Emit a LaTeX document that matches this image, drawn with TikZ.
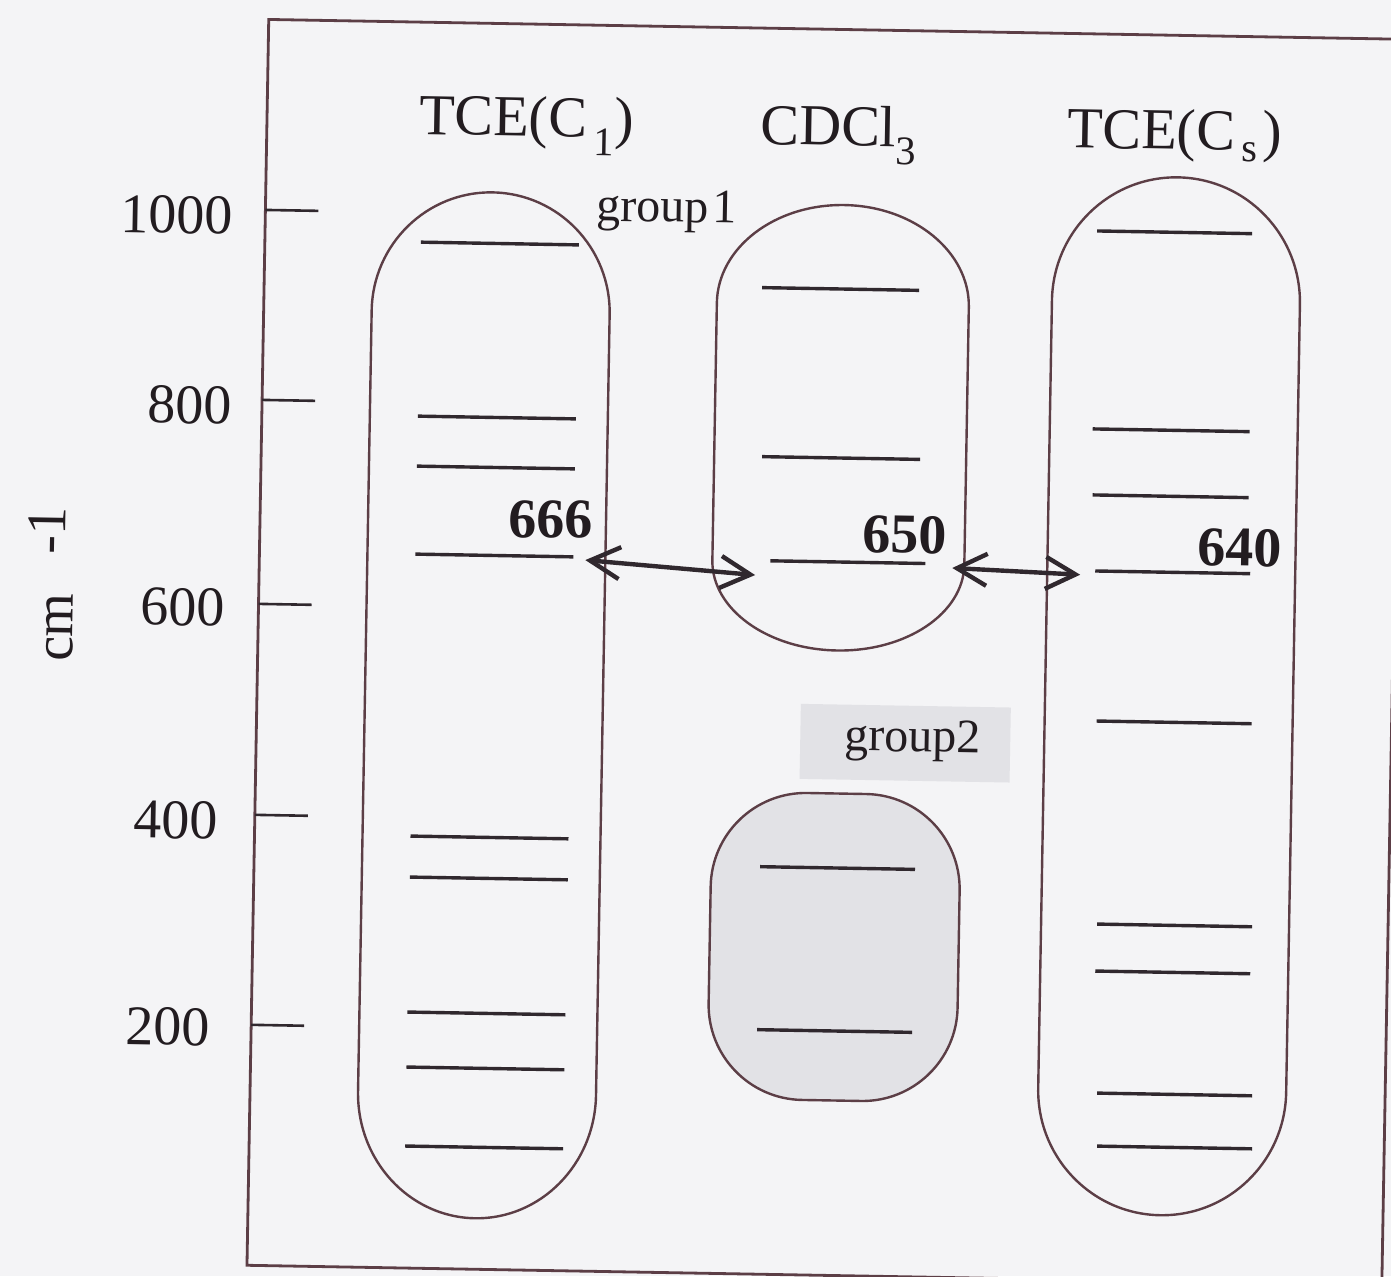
\documentclass[tikz,border=0pt]{standalone}
\usepackage{fontspec}
\setmainfont{Liberation Serif}
\usetikzlibrary{arrows.meta}
\definecolor{ink}{RGB}{48,40,46}
\definecolor{rim}{RGB}{92,62,70}
\definecolor{paper}{RGB}{244,244,246}
\definecolor{dots}{RGB}{226,226,230}

\begin{document}
\begin{tikzpicture}[x=1pt,y=-1pt,
  outline/.style={draw=rim, line width=2.4pt},
  level/.style={draw=ink, line width=3.4pt},
  frameline/.style={draw=rim, line width=2.8pt},
  tickmark/.style={draw=ink, line width=2.6pt},
  link/.style={draw=ink, line width=4.4pt,
    {Straight Barb[length=30pt,width=32pt]}-{Straight Barb[length=30pt,width=32pt]}},
  txt/.style={text=ink!70!black, inner sep=0pt},
  ticklbl/.style={txt, anchor=east, font=\fontsize{56}{60}\selectfont},
  title/.style={txt, anchor=base, font=\fontsize{58}{62}\selectfont},
  value/.style={txt, font=\bfseries\fontsize{56}{60}\selectfont},
  grouplbl/.style={txt, font=\fontsize{48}{52}\selectfont}
]
\useasboundingbox (0,0) rectangle (1391,1276);
\fill[paper] (0,0) rectangle (1391,1276);
\clip (0,0) rectangle (1391,1276);

\begin{scope}[rotate around={-1:(695,638)}, transform shape]
  % outer frame
  \draw[frameline] (258,27) rectangle (1393,1273);

  % axis ticks and values
  \draw[tickmark] (258,217.5) -- (311,217.5);
  \draw[tickmark] (258,407.5) -- (311,407.5);
  \draw[tickmark] (258,611.5) -- (311,611.5);
  \draw[tickmark] (258,822.5) -- (311,822.5);
  \draw[tickmark] (258,1032.5) -- (311,1032.5);
  \node[ticklbl] (t1000) at (226,224) {1000};
  \node[ticklbl] (t800)  at (228,414) {800};
  \node[ticklbl] (t600)  at (225,616) {600};
  \node[ticklbl] (t400)  at (221,829) {400};
  \node[ticklbl] (t200)  at (217,1036) {200};
  \node[txt, rotate=90, anchor=base west, font=\fontsize{56}{60}\selectfont]
    (unit) at (73,673) {cm\hspace{0.7em}\raisebox{9pt}{-1}};

  % column headings
  \node[title] (hC1)  at (518,139) {TCE(C\hspace{0.12em}\textsubscript{1})};
  \node[title] (hCD)  at (830,143) {CDCl\textsubscript{3}};
  \node[title] (hCs)  at (1166,141) {TCE(C\hspace{0.12em}\textsubscript{s}\hspace{0.08em})};

  % TCE(C1) column
  \draw[outline] (366,316) arc[start angle=180, end angle=0, x radius=119pt, y radius=120pt]
    -- (604,1097) arc[start angle=0, end angle=-180, x radius=119pt, y radius=125pt] -- cycle;
  \foreach \yy in {247,421,471,559,841,882,1017,1072,1151}
    \draw[level] (414,\yy) -- (572,\yy);

  % CDCl3 group 1
  \draw[outline] (711,302.5) arc[start angle=180, end angle=0, x radius=126pt, y radius=100pt]
    -- (963,560) arc[start angle=0, end angle=-180, x radius=126pt, y radius=88pt] -- cycle;
  \draw[level] (756,286.5) -- (913,286.5);
  \draw[level] (759,455.5) -- (917,455.5);
  \draw[level] (769,559.5) -- (924,559.5);
  \node[grouplbl] (g1) at (659,212) {group\hspace{0.08em}1};

  % CDCl3 group 2
  \fill[dots] (802,702) rectangle (1012,777);
  \node[grouplbl] (g2) at (914,737) {group2};
  \draw[outline, fill=dots, rounded corners=95pt] (715,791) rectangle (964,1098);
  \draw[level] (764,865.5) -- (919,865.5);
  \draw[level] (764,1028.5) -- (919,1028.5);

  % TCE(Cs) column
  \draw[outline] (1046,294) arc[start angle=180, end angle=0, x radius=124pt, y radius=125pt]
    -- (1294,1082) arc[start angle=0, end angle=-180, x radius=124pt, y radius=125pt] -- cycle;
  \draw[level] (1090,224) -- (1245,224);
  \draw[level] (1089,422) -- (1246,422);
  \draw[level] (1090,488) -- (1246,488);
  \draw[level] (1094,564) -- (1249,564);
  \draw[level] (1098,714) -- (1253,714);
  \draw[level] (1102,917) -- (1257,917);
  \draw[level] (1101,964) -- (1256,964);
  \draw[level] (1105,1086) -- (1260,1086);
  \draw[level] (1106,1139) -- (1261,1139);

  % correlated bands
  \node[value] (v666) at (549,522) {666};
  \node[value] (v650) at (903,531) {650};
  \node[value] (v640) at (1238,538) {640};
  \coordinate (l666) at (584,562);
  \coordinate (l650a) at (754,574);
  \coordinate (l650b) at (951,563.5);
  \coordinate (l640) at (1079,568);
  \draw[link] (l666) -- (l650a);
  \draw[link] (l650b) -- (l640);
\end{scope}
\end{tikzpicture}
\end{document}
